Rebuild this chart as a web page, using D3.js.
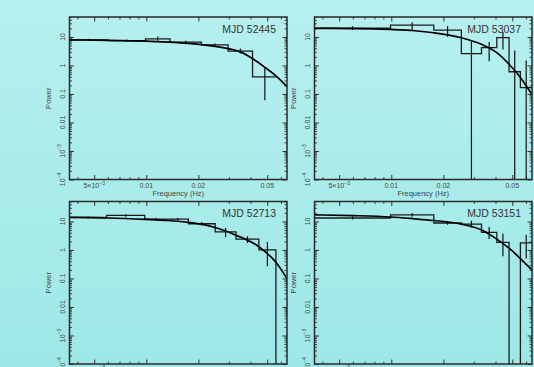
<!DOCTYPE html>
<html>
<head>
<meta charset="utf-8">
<script src="https://cdn.jsdelivr.net/npm/d3@7"></script>
<style>
body { margin: 0; overflow: hidden; }
text { font-family: "Liberation Sans", Arial, sans-serif; }
</style>
</head>
<body>
<svg id="chart" width="534" height="367"></svg>
<script>
// axis ranges and tick labels
var freqDomain = [0.0036, 0.065];
var powerDomain = [1e-4, 50];
var yMajor = [1e-4, 1e-3, 0.01, 0.1, 1, 10];
var yLabels = [["10", "−4"], ["10", "−3"], ["0.01"], ["0.1"], ["1"], ["10"]];
var xMajor = [0.005, 0.01, 0.02, 0.05];
var xLabels = [["5×10", "−3"], ["0.01"], ["0.02"], ["0.05"]];

var titles = ["MJD 52445", "MJD 53037", "MJD 52713", "MJD 53151"];

// MJD 52445 : bin edges (Hz), binned power, error bar low / high, model curve
var edgesA = [0.0036, 0.0060, 0.0099, 0.0137, 0.0208, 0.0297, 0.0411, 0.0570];
var powA   = [7.9, 7.4, 8.6, 6.6, 5.3, 3.2, 0.40];
var loA    = [7.2, 6.8, 7.4, 6.0, 4.8, 2.6, 0.06];
var hiA    = [8.7, 8.1, 10.3, 7.3, 5.9, 3.9, 0.83];
var modelFA = [0.0036, 0.006, 0.01, 0.0137, 0.0176, 0.0208, 0.0297, 0.0349, 0.041, 0.0488, 0.057, 0.065];
var modelPA = [7.9, 7.6, 7.1, 6.6, 5.9, 5.4, 3.9, 3.0, 1.76, 0.83, 0.40, 0.18];

// MJD 53037
var edgesB = [0.0036, 0.0099, 0.0176, 0.0254, 0.0332, 0.0407, 0.0479, 0.0557, 0.065];
var powB   = [20.5, 26, 17.4, 2.6, 4.2, 9.4, 0.60, 0.166];
var loB    = [17.5, 17, 10.2, 0, 1.41, 3.6, 0, 0];
var hiB    = [23.5, 33, 24, 6.8, 6.6, 14.8, 3.35, 1.5];
var modelFB = [0.0036, 0.006, 0.0099, 0.0137, 0.0176, 0.0254, 0.0332, 0.0407, 0.0479, 0.0557, 0.065];
var modelPB = [20, 19.7, 18.3, 16.5, 14, 9.4, 5.5, 2.8, 1.1, 0.38, 0.095];

// MJD 52713
var edgesC = [0.0036, 0.0059, 0.0098, 0.0132, 0.0175, 0.0250, 0.0330, 0.0447, 0.0561, 0.065];
var powC   = [13.8, 16.2, 12.1, 12.0, 8.3, 4.3, 2.4, 1.0, 0];
var loC    = [12.5, 14.5, 10.8, 10.5, 7.2, 2.85, 1.75, 0.27, 0];
var hiC    = [15, 18, 13.5, 13.5, 9.6, 5.9, 3.0, 1.9, 0];
var modelFC = [0.0036, 0.006, 0.0099, 0.0133, 0.0176, 0.0208, 0.025, 0.033, 0.0447, 0.0561, 0.065];
var modelPC = [13.8, 13.2, 11.8, 10.8, 9.3, 8.0, 6.1, 3.3, 1.3, 0.37, 0.1];

// MJD 53151
var edgesD = [0.0036, 0.0099, 0.0176, 0.0254, 0.0332, 0.0407, 0.0479, 0.0557, 0.065];
var powD   = [13.2, 17.1, 8.8, 8.0, 4.1, 1.85, 0, 1.76];
var loD    = [11.8, 14.5, 7.6, 6.0, 2.4, 0.6, 0, 0.5];
var hiD    = [14.8, 19.8, 10, 10.5, 6.4, 3.7, 0, 3.4];
var modelFD = [0.0036, 0.006, 0.0099, 0.0133, 0.0176, 0.0254, 0.0332, 0.0407, 0.0479, 0.0557, 0.065];
var modelPD = [17, 16, 14.3, 12.5, 10.8, 8.0, 5.0, 2.4, 1.15, 0.5, 0.2];

var W = 217.5, H = 162.5;
var panels = [
	{x: 69.5, y: 17,    title: titles[0], edges: edgesA, pow: powA, lo: loA, hi: hiA, mf: modelFA, mp: modelPA},
	{x: 314.5, y: 17,   title: titles[1], edges: edgesB, pow: powB, lo: loB, hi: hiB, mf: modelFB, mp: modelPB},
	{x: 69.5, y: 201.5, title: titles[2], edges: edgesC, pow: powC, lo: loC, hi: hiC, mf: modelFC, mp: modelPC},
	{x: 314.5, y: 201.5, title: titles[3], edges: edgesD, pow: powD, lo: loD, hi: hiD, mf: modelFD, mp: modelPD}
];

var svg = d3.select("#chart");

//background gradient
var grad = svg.append("defs").append("linearGradient")
	.attr("id", "bg").attr("x1", 0).attr("y1", 0).attr("x2", 0).attr("y2", 1);
grad.append("stop").attr("offset", "0%").attr("stop-color", "#b6f0ef");
grad.append("stop").attr("offset", "100%").attr("stop-color", "#9de8e7");
svg.append("rect").attr("width", 534).attr("height", 367).attr("fill", "url(#bg)");

var x = d3.scaleLog().domain(freqDomain).range([0, W]);
var y = d3.scaleLog().domain(powerDomain).range([H, 0]);

//zero power lies below the axis
function yPos(v){
	return v > 0 ? y(v) : H + 20;
}

function addLabel(sel, parts, sup){
	sel.append("tspan").text(parts[0]);
	if(parts.length > 1)
		sel.append("tspan").attr("dy", -2.6).style("font-size", sup).text(parts[1]);
}

function drawPanel(p, i){
	var g = svg.append("g").attr("transform", "translate(" + p.x + "," + p.y + ")");

	svg.select("defs").append("clipPath").attr("id", "clip" + i)
		.append("rect").attr("width", W).attr("height", H);

	var minorX = x.ticks().filter(function(t){ return xMajor.indexOf(+t.toPrecision(3)) < 0; });
	var minorY = y.ticks().filter(function(t){ return yMajor.indexOf(+t.toPrecision(3)) < 0; });

	//inward ticks on all four sides
	var axes = [
		[d3.axisBottom(x), "translate(0," + H + ")", xMajor, minorX],
		[d3.axisTop(x), "translate(0,0)", xMajor, minorX],
		[d3.axisLeft(y), "translate(0,0)", yMajor, minorY],
		[d3.axisRight(y), "translate(" + W + ",0)", yMajor, minorY]
	];
	axes.forEach(function(a){
		g.append("g").attr("transform", a[1])
			.call(a[0].tickValues(a[2]).tickSize(-4.5).tickFormat(""))
			.call(function(s){ s.select(".domain").remove(); s.selectAll("line").attr("stroke", "#333").attr("stroke-width", 1); });
		g.append("g").attr("transform", a[1])
			.call(a[0].tickValues(a[3]).tickSize(-2.5).tickFormat(""))
			.call(function(s){ s.select(".domain").remove(); s.selectAll("line").attr("stroke", "#333").attr("stroke-width", 0.9); });
	});

	//y tick labels, rotated
	yMajor.forEach(function(v, k){
		var t = g.append("text")
			.attr("transform", "translate(-7.5," + y(v) + ") rotate(-90)")
			.attr("text-anchor", "middle")
			.attr("dominant-baseline", "central")
			.style("font-size", "7px")
			.style("fill", "#444");
		addLabel(t, yLabels[k], "5px");
	});

	//x tick labels
	xMajor.forEach(function(v, k){
		var t = g.append("text")
			.attr("x", x(v)).attr("y", H + 8)
			.attr("text-anchor", "middle")
			.style("font-size", "7px")
			.style("fill", "#444");
		addLabel(t, xLabels[k], "5px");
	});

	g.append("text")
		.attr("x", W / 2).attr("y", H + 16.5)
		.attr("text-anchor", "middle")
		.style("font-size", "7.5px")
		.style("fill", "#444")
		.text("Frequency (Hz)");

	g.append("text")
		.attr("transform", "translate(-21.5," + (H / 2) + ") rotate(-90)")
		.attr("text-anchor", "middle")
		.attr("dominant-baseline", "central")
		.style("font-size", "7.5px")
		.style("fill", "#444")
		.text("Power");

	var data = g.append("g").attr("clip-path", "url(#clip" + i + ")");

	//binned power as a step outline
	var steps = [];
	p.pow.forEach(function(v, k){
		steps.push([p.edges[k], v]);
		steps.push([p.edges[k + 1], v]);
	});
	data.append("path")
		.attr("d", d3.line().x(function(d){ return x(d[0]); }).y(function(d){ return yPos(d[1]); })(steps))
		.attr("fill", "none")
		.attr("stroke", "#1a1a1a")
		.attr("stroke-width", 1.3);

	//error bars at bin centres
	p.pow.forEach(function(v, k){
		if(p.hi[k] <= 0) return;
		var c = Math.sqrt(p.edges[k] * p.edges[k + 1]);
		data.append("line")
			.attr("x1", x(c)).attr("x2", x(c))
			.attr("y1", yPos(p.lo[k])).attr("y2", yPos(p.hi[k]))
			.attr("stroke", "#111")
			.attr("stroke-width", 1.2);
	});

	//model
	var model = p.mf.map(function(f, k){ return [f, p.mp[k]]; });
	data.append("path")
		.attr("d", d3.line().curve(d3.curveMonotoneX)
			.x(function(d){ return x(d[0]); }).y(function(d){ return y(d[1]); })(model))
		.attr("fill", "none")
		.attr("stroke", "#000")
		.attr("stroke-width", 1.7);

	g.append("rect")
		.attr("width", W).attr("height", H)
		.attr("fill", "none")
		.attr("stroke", "#2a2a2a")
		.attr("stroke-width", 1.5);

	g.append("text")
		.attr("x", W - 11).attr("y", 15.5)
		.attr("text-anchor", "end")
		.style("font-size", "10.5px")
		.style("fill", "#333")
		.text(p.title);
}

panels.forEach(drawPanel);
</script>
</body>
</html>
